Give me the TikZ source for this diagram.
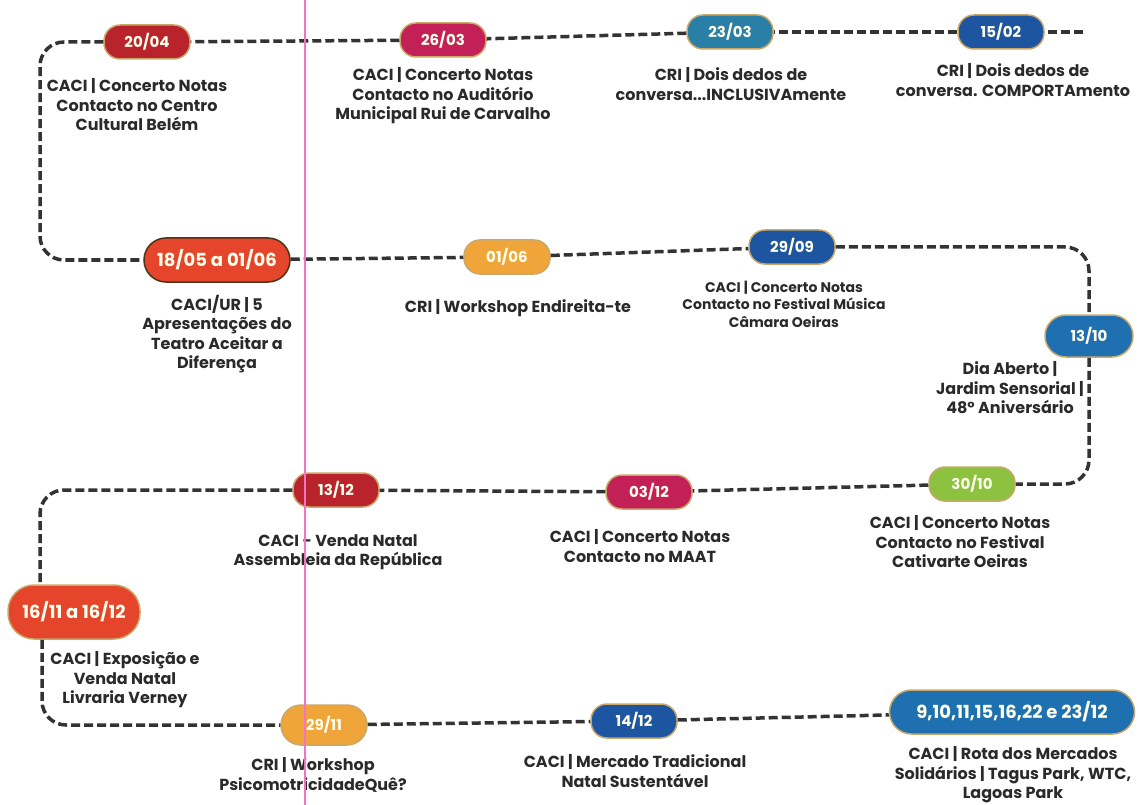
\documentclass[tikz,border=0pt]{standalone}
\usepackage{fontspec}
\setmainfont{Poppins}
\usetikzlibrary{positioning}
\definecolor{cRed}{HTML}{B8232C}
\definecolor{cCrimson}{HTML}{C42058}
\definecolor{cTeal}{HTML}{2A7FA6}
\definecolor{cNavy}{HTML}{1E55A0}
\definecolor{cBlue}{HTML}{1F70B0}
\definecolor{cOrange}{HTML}{E4452B}
\definecolor{cAmber}{HTML}{F0A53A}
\definecolor{cGreen}{HTML}{8CC23F}
\definecolor{cGlow}{HTML}{C9A86A}
\definecolor{cText}{HTML}{2A2A2A}
\begin{document}
\begin{tikzpicture}[x=1pt,y=-1pt]
\tikzstyle{datePill}=[rectangle,rounded corners=16pt,minimum width=86pt,minimum height=34pt,inner sep=4pt,draw=cGlow,line width=1.5pt,text=white!92!yellow,font=\bfseries\fontsize{15}{15}\selectfont]
\tikzstyle{bigPill}=[datePill,minimum height=44pt,rounded corners=22pt,font=\bfseries\fontsize{18}{18}\selectfont]
\tikzstyle{event}=[align=center,text=cText,font=\bfseries\fontsize{16}{19.5}\selectfont]
\tikzstyle{smallEvent}=[event,font=\bfseries\fontsize{14}{17.5}\selectfont]
\tikzstyle{timeline}=[draw=black!80,line width=3.5pt,dash pattern=on 9pt off 4pt,rounded corners=24pt]
\useasboundingbox (0,0) rectangle (1138,805);

%first row
\node[datePill,fill=cRed] (d2004)     at (147,42) {20/04};
\node[datePill,fill=cCrimson] (d2603) at (443,40) {26/03};
\node[datePill,fill=cTeal] (d2303)    at (730,32) {23/03};
\node[datePill,fill=cNavy] (d1502)    at (1001,32) {15/02};
\coordinate (tail) at (1083,32);
\coordinate (bendA) at (40,150);

%second row
\node[bigPill,fill=cOrange,minimum width=146pt,draw=black!60!brown] (d1805) at (217,260) {18/05 a 01/06};
\node[datePill,fill=cAmber] (d0106)  at (507,257) {01/06};
\node[datePill,fill=cNavy] (d2909)   at (792,247) {29/09};
\node[datePill,fill=cBlue,minimum width=88pt,minimum height=42pt,rounded corners=21pt] (d1310) at (1089,336) {13/10};
\node[datePill,fill=cGreen] (d3010)  at (972,484) {30/10};

%third row
\node[datePill,fill=cCrimson] (d0312) at (649,492) {03/12};
\node[datePill,fill=cRed] (d1312)     at (336,490) {13/12};
\node[bigPill,fill=cOrange,minimum width=132pt,minimum height=54pt,rounded corners=26pt] (d1611) at (74,612) {16/11 a 16/12};

%fourth row
\node[datePill,fill=cAmber,minimum height=40pt,rounded corners=20pt] (d2911) at (324,725) {29/11};
\node[datePill,fill=cNavy] (d1412) at (634,721) {14/12};
\node[bigPill,fill=cBlue,minimum width=245pt] (dMerc) at (1012,712) {9,10,11,15,16,22 e 23/12};

%event labels
\node[event] (l2004) at (137,105) {CACI | Concerto Notas\\Contacto no Centro\\Cultural Belém};
\node[event] (l2603) at (443,96)  {CACI | Concerto Notas\\Contacto no Auditório\\Municipal Rui de Carvalho};
\node[event] (l2303) at (731,84)  {CRI | Dois dedos de\\conversa...INCLUSIVAmente};
\node[event] (l1502) at (1013,80) {CRI | Dois dedos de\\conversa. COMPORTAmento};
\node[event] (l1805) at (217,334) {CACI/UR | 5\\Apresentações do\\Teatro Aceitar a\\Diferença};
\node[event] (l0106) at (518,308) {CRI | Workshop Endireita-te};
\node[smallEvent] (l2909) at (784,304) {CACI | Concerto Notas\\Contacto no Festival Música\\Câmara Oeiras};
\node[event] (l1310) at (1010,388) {Dia Aberto |\\Jardim Sensorial |\\48º Aniversário};
\node[event] (l3010) at (960,542) {CACI | Concerto Notas\\Contacto no Festival\\Cativarte Oeiras};
\node[event] (l0312) at (640,546) {CACI | Concerto Notas\\Contacto no MAAT};
\node[event] (l1312) at (338,552) {CACI - Venda Natal\\Assembleia da República};
\node[event] (l1611) at (125,680) {CACI | Exposição e\\Venda Natal\\Livraria Verney};
\node[event] (l2911) at (313,775) {CRI | Workshop\\PsicomotricidadeQuê?};
\node[event] (l1412) at (635,771) {CACI | Mercado Tradicional\\Natal Sustentável};
\node[event] (lMerc) at (1013,775) {CACI | Rota dos Mercados\\Solidários | Tagus Park, WTC,\\Lagoas Park};

% connections
\draw[timeline] (tail) -- (d1502);
\draw[timeline] (d1502) -- (d2303);
\draw[timeline] (d2303) -- (d2603);
\draw[timeline] (d2603) -- (d2004);
\draw[timeline] (d2004) -| (bendA) |- (d1805);
\draw[timeline] (d1805) -- (d0106);
\draw[timeline] (d0106) -- (d2909);
\draw[timeline] (d2909) -| (d1310);
\draw[timeline] (d1310) |- (d3010);
\draw[timeline] (d3010) -- (d0312);
\draw[timeline] (d0312) -- (d1312);
\draw[timeline] (d1312) -| ([xshift=-34pt]d1611.north);
\draw[timeline] ([xshift=-32pt]d1611.south) |- (d2911);
\draw[timeline] (d2911) -- (d1412);
\draw[timeline] (d1412) -- (dMerc);

%guide line
\draw[magenta!55,line width=1.5pt] (305,0) -- (305,805);

\end{tikzpicture}
\end{document}
